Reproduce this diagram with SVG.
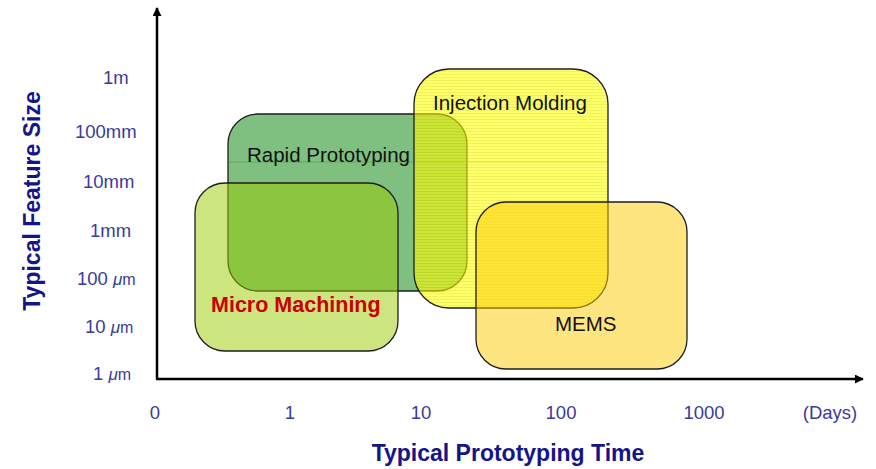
<svg xmlns="http://www.w3.org/2000/svg" width="876" height="469" viewBox="0 0 876 469">
  <style>
    .tick { font-family: "Liberation Sans", Arial, sans-serif; font-size: 18.5px; fill: #3a3a9e; }
    .axis-title { font-family: "Liberation Sans", Arial, sans-serif; font-size: 23px; font-weight: bold; fill: #14148c; }
    .label { font-family: "Liberation Sans", Arial, sans-serif; font-size: 20.5px; fill: #111111; }
    .box { stroke: #1e1e1e; stroke-width: 1.3; }
    .axis { stroke: #000000; stroke-width: 2.5; fill: none; }
  </style>
  <defs>
    <marker id="arrow" viewBox="0 0 10 10" refX="9" refY="5" markerWidth="3.6" markerHeight="3.6" orient="auto" markerUnits="strokeWidth">
      <path d="M0,0 L10,5 L0,10 z" fill="#000000"/>
    </marker>
    <pattern id="stripes" width="6" height="3" patternUnits="userSpaceOnUse">
      <rect width="6" height="3" fill="#ffff00"/>
      <rect y="2" width="6" height="1" fill="#e8e800"/>
    </pattern>
  </defs>

  <rect width="876" height="469" fill="#ffffff"/>

  <!-- axes -->
  <g id="connectors">
    <line class="axis" x1="157" y1="379" x2="157" y2="8" marker-end="url(#arrow)"/>
    <line class="axis" x1="156" y1="379" x2="863" y2="379" marker-end="url(#arrow)"/>
  </g>

  <!-- size scale -->
  <g id="y-ticks">
    <text class="tick" x="103" y="84">1m</text>
    <text class="tick" x="75" y="138">100mm</text>
    <text class="tick" x="83" y="188">10mm</text>
    <text class="tick" x="90" y="237">1mm</text>
    <text class="tick" x="77" y="285">100 <tspan font-style="italic" font-size="17">μ</tspan><tspan font-size="16">m</tspan></text>
    <text class="tick" x="85" y="333">10 <tspan font-style="italic" font-size="17">μ</tspan><tspan font-size="16">m</tspan></text>
    <text class="tick" x="93" y="380">1 <tspan font-style="italic" font-size="17">μ</tspan><tspan font-size="16">m</tspan></text>
  </g>

  <!-- time scale -->
  <g id="x-ticks" text-anchor="middle">
    <text class="tick" x="155" y="419">0</text>
    <text class="tick" x="290" y="419">1</text>
    <text class="tick" x="421" y="419">10</text>
    <text class="tick" x="561" y="419">100</text>
    <text class="tick" x="704" y="419">1000</text>
    <text class="tick" x="830" y="419">(Days)</text>
  </g>

  <text class="axis-title" x="508" y="461" text-anchor="middle">Typical Prototyping Time</text>
  <text class="axis-title" transform="translate(40,201) rotate(-90)" text-anchor="middle">Typical Feature Size</text>

  <!-- process regions -->
  <g id="rapid-prototyping">
    <rect class="box" x="228" y="114" width="239" height="177" rx="30" ry="30" fill="#008000" fill-opacity="0.5"/>
    <line x1="228" y1="162" x2="608" y2="162" stroke="#3c9a3c" stroke-width="1" stroke-opacity="0.5"/>
    <text class="label" x="247" y="162">Rapid Prototyping</text>
  </g>

  <g id="micro-machining">
    <rect class="box" x="195" y="183" width="203" height="168" rx="30" ry="30" fill="#99cc00" fill-opacity="0.5"/>
    <text x="211" y="312" font-family="'Liberation Sans', Arial, sans-serif" font-size="21.5" font-weight="bold" fill="#cc0000">Micro Machining</text>
  </g>

  <g id="injection-molding">
    <rect x="414" y="69" width="194" height="239" rx="35" ry="35" fill="url(#stripes)" fill-opacity="0.6" stroke="#1e1e1e" stroke-width="1.3"/>
    <text class="label" x="433" y="110">Injection Molding</text>
  </g>

  <g id="mems">
    <rect class="box" x="476" y="202" width="211" height="167" rx="30" ry="30" fill="#ffcc00" fill-opacity="0.5"/>
    <text class="label" x="555" y="331" font-size="17.5">MEMS</text>
  </g>
</svg>
